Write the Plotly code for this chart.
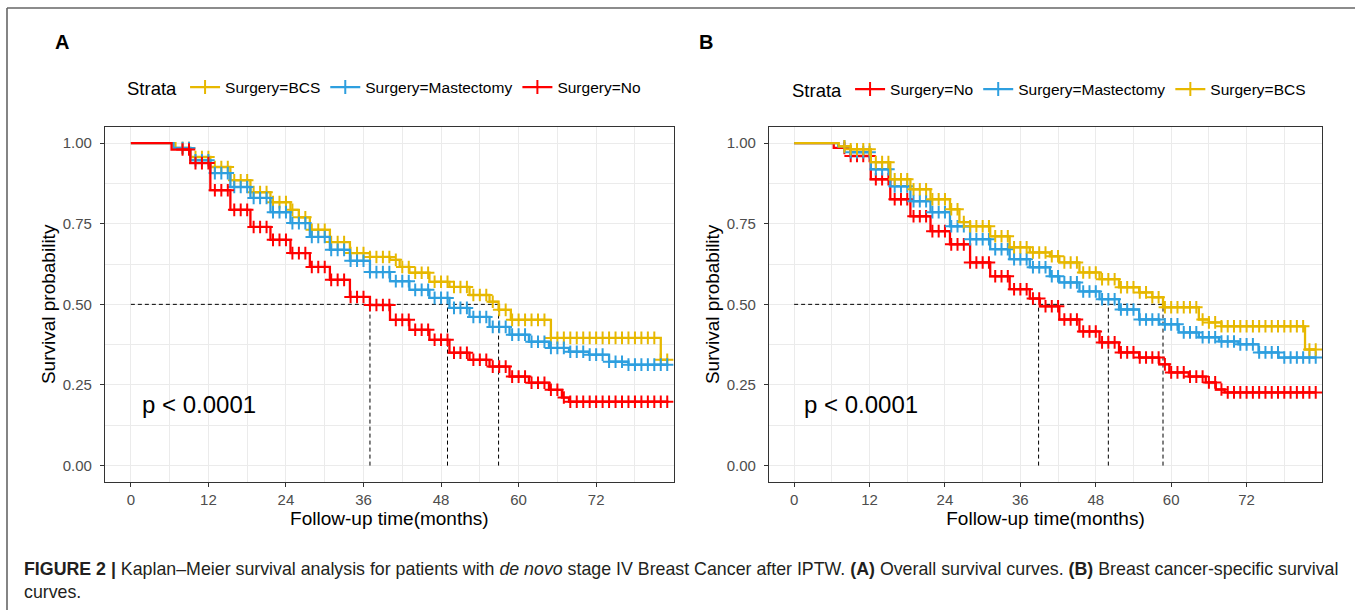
import numpy as np
import plotly.graph_objects as go

# ---------------- data ----------------
months_ticks = [0, 12, 24, 36, 48, 60, 72]
minor_months = [6, 18, 30, 42, 54, 66, 78]
surv_ticks = [0.0, 0.25, 0.5, 0.75, 1.0]
minor_surv = [0.125, 0.375, 0.625, 0.875]

# Panel A: overall survival
A_bcs_t = [0, 6.9, 9.2, 12.3, 15.4, 18.5, 21.6, 24.7, 26.0, 27.7, 30.8, 33.9, 37.0, 40.1, 41.6, 43.1,
           46.2, 49.3, 52.4, 55.5, 56.9, 58.8, 65.0, 82.0, 83.2]
A_bcs_s = [1.0, 0.985, 0.957, 0.926, 0.885, 0.848, 0.817, 0.793, 0.770, 0.731, 0.693, 0.659, 0.647, 0.638, 0.616, 0.598,
           0.570, 0.554, 0.529, 0.508, 0.483, 0.452, 0.396, 0.328, 0.328]
A_mas_t = [0, 6.6, 9.2, 12.3, 15.4, 18.5, 21.6, 24.7, 27.7, 30.8, 33.9, 37.0, 40.1, 43.1, 46.2, 49.3,
           52.4, 55.5, 58.6, 61.6, 64.7, 67.8, 70.9, 74.0, 77.0, 83.2]
A_mas_s = [1.0, 0.985, 0.947, 0.907, 0.864, 0.830, 0.786, 0.752, 0.709, 0.669, 0.635, 0.600, 0.572, 0.545, 0.520, 0.489,
           0.461, 0.430, 0.406, 0.384, 0.365, 0.353, 0.344, 0.322, 0.313, 0.313]
A_no_t = [0, 6.3, 9.2, 12.3, 15.4, 18.5, 21.6, 24.7, 27.7, 30.8, 33.9, 37.0, 40.1, 43.1, 46.2, 49.3,
          52.4, 55.5, 58.6, 61.6, 64.7, 66.7, 67.8, 83.2]
A_no_s = [1.0, 0.980, 0.938, 0.854, 0.793, 0.740, 0.700, 0.659, 0.616, 0.576, 0.523, 0.498, 0.452, 0.421, 0.390, 0.350,
          0.328, 0.307, 0.276, 0.257, 0.235, 0.211, 0.198, 0.198]
A_medians = [37.0, 49.0, 56.9]

# Panel B: breast cancer-specific survival
B_no_t = [0, 6.3, 9.0, 12.2, 15.3, 18.5, 21.7, 24.8, 28.0, 31.2, 34.3, 37.5, 39.1, 42.2, 45.4, 48.6,
          51.7, 54.9, 58.1, 59.7, 62.8, 65.5, 67.1, 68.5, 83.0]
B_no_s = [1.0, 0.985, 0.960, 0.888, 0.826, 0.773, 0.727, 0.686, 0.630, 0.587, 0.547, 0.518, 0.494, 0.453, 0.416, 0.382,
          0.351, 0.335, 0.314, 0.289, 0.276, 0.258, 0.236, 0.227, 0.227]
B_mas_t = [0, 7.0, 9.0, 12.2, 15.3, 18.5, 21.7, 24.8, 28.0, 31.2, 34.3, 37.5, 40.7, 42.2, 45.4, 48.6,
           51.7, 54.9, 58.1, 61.2, 64.4, 67.6, 70.7, 73.9, 77.1, 83.0]
B_mas_s = [1.0, 0.990, 0.972, 0.919, 0.866, 0.820, 0.786, 0.742, 0.702, 0.671, 0.640, 0.615, 0.587, 0.568, 0.540, 0.516,
           0.484, 0.453, 0.438, 0.413, 0.398, 0.385, 0.376, 0.351, 0.335, 0.335]
B_bcs_t = [0, 7.1, 9.0, 12.2, 15.3, 18.5, 21.7, 24.8, 26.3, 28.0, 31.2, 34.3, 37.5, 40.7, 42.2, 45.4,
           48.6, 51.7, 54.9, 57.0, 58.7, 64.4, 66.0, 68.0, 81.3, 83.0]
B_bcs_s = [1.0, 0.990, 0.981, 0.941, 0.888, 0.857, 0.826, 0.795, 0.755, 0.742, 0.711, 0.677, 0.661, 0.649, 0.630, 0.599,
           0.578, 0.553, 0.537, 0.522, 0.491, 0.453, 0.444, 0.432, 0.360, 0.360]
B_medians = [38.9, 50.0, 58.7]

# approximate positions of censoring "+" marks (months)
censor_months = [8, 9, 10, 11, 12, 13, 14, 15, 16, 17, 18, 19, 20, 21, 22, 23, 24, 25, 26, 27, 28, 29, 30,
                 31, 32, 33, 34, 35, 36, 37, 38, 39, 40, 41, 42, 43, 44, 45, 46, 47, 48, 49, 50, 51, 52, 53,
                 54, 55, 56, 57, 58, 59, 60, 61, 62, 63, 64, 65, 66, 67, 68, 69, 70, 71, 72, 73, 74, 75, 76,
                 77, 78, 79, 80, 81, 82, 83]

p_text = "p < 0.0001"
p_pos = [10.6, 0.19]

colors = {"Surgery=BCS": "#E7B800", "Surgery=Mastectomy": "#2E9FDF", "Surgery=No": "#FF0000"}

panel_A = [("Surgery=BCS", A_bcs_t, A_bcs_s), ("Surgery=Mastectomy", A_mas_t, A_mas_s), ("Surgery=No", A_no_t, A_no_s)]
panel_B = [("Surgery=No", B_no_t, B_no_s), ("Surgery=Mastectomy", B_mas_t, B_mas_s), ("Surgery=BCS", B_bcs_t, B_bcs_s)]

FONT = "Liberation Sans, Arial, Helvetica, sans-serif"

fig = go.Figure()


def add_panel(series, medians, xa, ya, legend):
    # median reference lines
    mx, my = [0, max(medians), None], [0.5, 0.5, None]
    for m in medians:
        mx += [m, m, None]
        my += [0, 0.5, None]
    fig.add_trace(go.Scatter(x=mx, y=my, mode="lines", xaxis=xa, yaxis=ya, showlegend=False,
                             line=dict(color="#000000", width=1, dash="4px,3px"), hoverinfo="skip"))
    for name, t, s in series:
        t = np.asarray(t, float)
        s = np.asarray(s, float)
        c = colors[name]
        fig.add_trace(go.Scatter(x=t, y=s, mode="lines", line=dict(color=c, width=2.3, shape="hv"),
                                 xaxis=xa, yaxis=ya, name=name, legend=legend, showlegend=False))
        cm = np.asarray([m for m in censor_months if t[1] < m <= t[-1]], float)
        idx = np.searchsorted(t, cm, side="right") - 1
        fig.add_trace(go.Scatter(x=cm, y=s[idx], mode="markers", xaxis=xa, yaxis=ya, showlegend=False,
                                 marker=dict(symbol="cross-thin", size=9, line=dict(width=2, color=c), color=c)))
        fig.add_trace(go.Scatter(x=[None], y=[None], mode="lines+markers", xaxis=xa, yaxis=ya, name=name,
                                 legend=legend, line=dict(color=c, width=2.3),
                                 marker=dict(symbol="cross-thin", size=10, line=dict(width=2, color=c), color=c)))


add_panel(panel_A, A_medians, "x", "y", "legend")
add_panel(panel_B, B_medians, "x2", "y2", "legend2")

W, H = 1355, 610
ydom = [1 - 481.7 / H, 1 - 127 / H]

axis_common = dict(showline=True, mirror=True, linecolor="#333333", linewidth=1.3, ticks="outside",
                   ticklen=4, tickcolor="#333333", tickwidth=1.1, showgrid=True, gridcolor="#EBEBEB",
                   gridwidth=1.1, zeroline=False, tickfont=dict(family=FONT, size=15, color="#4D4D4D"))

xcommon = dict(axis_common, range=[-4, 84], tickvals=months_ticks,
               minor=dict(tickvals=minor_months, showgrid=True, gridcolor="#EBEBEB", gridwidth=0.6, ticks=""),
               title=dict(text="Follow-up time(months)", font=dict(family=FONT, size=19, color="#000000"), standoff=3))
ycommon = dict(axis_common, range=[-0.05, 1.05], tickvals=surv_ticks, tickformat=".2f", ticklabelstandoff=5,
               minor=dict(tickvals=minor_surv, showgrid=True, gridcolor="#EBEBEB", gridwidth=0.6, ticks=""),
               title=dict(text="Survival probability", font=dict(family=FONT, size=19, color="#000000"), standoff=1))

fig.update_layout(
    width=W, height=H, margin=dict(l=0, r=0, t=0, b=0, autoexpand=False),
    paper_bgcolor="white", plot_bgcolor="white",
    font=dict(family=FONT, color="#000000"),
    xaxis=dict(xcommon, domain=[105 / W, 673.7 / W], anchor="y"),
    yaxis=dict(ycommon, domain=ydom, anchor="x"),
    xaxis2=dict(xcommon, domain=[769 / W, 1322 / W], anchor="y2"),
    yaxis2=dict(ycommon, domain=ydom, anchor="x2"),
    legend=dict(orientation="h", x=125 / W, y=1 - 88 / H, xanchor="left", yanchor="middle",
                title=dict(text="Strata", font=dict(family=FONT, size=18.5, color="#000000")),
                font=dict(family=FONT, size=15.5, color="#000000"), bgcolor="rgba(0,0,0,0)", itemwidth=30),
    legend2=dict(orientation="h", x=790 / W, y=1 - 90 / H, xanchor="left", yanchor="middle",
                 title=dict(text="Strata", font=dict(family=FONT, size=18.5, color="#000000")),
                 font=dict(family=FONT, size=15.5, color="#000000"), bgcolor="rgba(0,0,0,0)", itemwidth=30),
    showlegend=True,
)

ann = [
    dict(text="<b>A</b>", x=62 / W, y=1 - 42 / H, font=dict(family=FONT, size=20, color="#000000")),
    dict(text="<b>B</b>", x=706 / W, y=1 - 42 / H, font=dict(family=FONT, size=20, color="#000000")),
    dict(text="<b>FIGURE 2 |</b> Kaplan–Meier survival analysis for patients with <i>de novo</i> stage IV Breast "
              "Cancer after IPTW. <b>(A)</b> Overall survival curves. <b>(B)</b> Breast cancer-specific survival",
         x=22 / W, y=1 - 569 / H, xanchor="left", font=dict(family=FONT, size=17.8, color="#231F20")),
    dict(text="curves.", x=22 / W, y=1 - 592 / H, xanchor="left", font=dict(family=FONT, size=17.8, color="#231F20")),
]
for a in ann:
    a.setdefault("xanchor", "center")
    fig.add_annotation(xref="paper", yref="paper", yanchor="middle", showarrow=False, **a)

for xr, yr in (("x", "y"), ("x2", "y2")):
    fig.add_annotation(xref=xr, yref=yr, x=p_pos[0], y=p_pos[1], text=p_text, showarrow=False,
                       font=dict(family=FONT, size=24, color="#000000"))

# outer frame (top and left edges of the figure box)
fig.add_shape(type="line", xref="paper", yref="paper", x0=7 / W, x1=1.01, y0=1 - 8 / H, y1=1 - 8 / H,
              line=dict(color="#666666", width=1.6))
fig.add_shape(type="line", xref="paper", yref="paper", x0=7 / W, x1=7 / W, y0=1 - 8 / H, y1=-0.01,
              line=dict(color="#666666", width=1.6))

fig.write_html("out.html", config={"displayModeBar": False},
               post_script="document.body.style.margin='0';document.body.style.overflow='hidden';")
